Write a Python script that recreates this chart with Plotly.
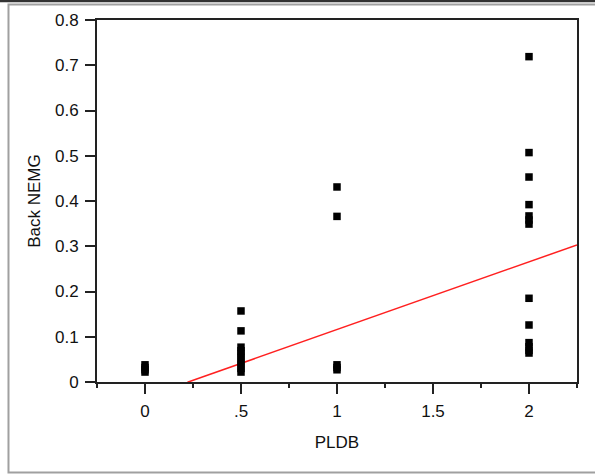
import plotly.graph_objects as go

# PLDB groups and the Back NEMG readings in each
pldb_0 = [0.038, 0.032, 0.027, 0.022]
pldb_05 = [0.157, 0.113, 0.077, 0.069, 0.062, 0.054, 0.046, 0.038, 0.030, 0.022]
pldb_1 = [0.431, 0.366, 0.038, 0.032, 0.027]
pldb_2 = [0.719, 0.507, 0.453, 0.392, 0.367, 0.358, 0.349,
          0.185, 0.126, 0.087, 0.078, 0.070, 0.064]

groups = [(0.0, pldb_0), (0.5, pldb_05), (1.0, pldb_1), (2.0, pldb_2)]

# Linear fit of Back NEMG on PLDB
FIT_INTERCEPT = -0.0337
FIT_SLOPE = 0.1496

x_ticks = [0, 0.5, 1, 1.5, 2]
x_tick_text = ["0", ".5", "1", "1.5", "2"]
x_minor = [-0.25, 0.25, 0.75, 1.25, 1.75, 2.25]
y_ticks = [0, 0.1, 0.2, 0.3, 0.4, 0.5, 0.6, 0.7, 0.8]
y_tick_text = ["0", "0.1", "0.2", "0.3", "0.4", "0.5", "0.6", "0.7", "0.8"]

X_RANGE = [-0.25, 2.25]
Y_RANGE = [0, 0.8]

xs, ys = [], []
for xv, vals in groups:
    xs += [xv] * len(vals)
    ys += vals

# fitted line runs from just below its zero crossing to the right edge
fit_x0 = -FIT_INTERCEPT / FIT_SLOPE - 0.004
fit_x = [fit_x0, X_RANGE[1]]
fit_y = [FIT_INTERCEPT + FIT_SLOPE * v for v in fit_x]

fig = go.Figure()
fig.add_trace(go.Scatter(
    x=fit_x, y=fit_y, mode="lines",
    line=dict(color="#ff2020", width=1.5),
    hoverinfo="skip", cliponaxis=False,
))
fig.add_trace(go.Scatter(
    x=xs, y=ys, mode="markers",
    marker=dict(symbol="square", size=7.5, color="#000000", line=dict(width=0)),
))

font = dict(family="Liberation Sans, Arial, sans-serif", size=17, color="#111111")
axis_common = dict(
    showline=True, linecolor="#222222", linewidth=2, mirror=True,
    ticks="outside", ticklen=10, tickwidth=2, tickcolor="#222222",
    showgrid=False, zeroline=False, tickfont=font,
)

fig.update_layout(
    width=595, height=474,
    margin=dict(l=97, r=18, t=20, b=92),
    paper_bgcolor="white", plot_bgcolor="white",
    showlegend=False,
    font=font,
    xaxis=dict(
        range=X_RANGE, tickmode="array", tickvals=x_ticks, ticktext=x_tick_text,
        minor=dict(tickmode="array", tickvals=x_minor, ticks="outside",
                   ticklen=4, tickwidth=2, tickcolor="#222222"),
        ticklabelstandoff=3,
        title=dict(text="PLDB", font=font, standoff=16),
        **axis_common,
    ),
    yaxis=dict(
        range=Y_RANGE, tickmode="array", tickvals=y_ticks, ticktext=y_tick_text,
        ticklabelstandoff=3,
        title=dict(text="Back NEMG", font=font, standoff=10),
        **axis_common,
    ),
)

# Window frame around the chart
fig.add_shape(type="line", xref="paper", yref="paper",
              x0=-0.21, x1=1.05, y0=1.0525, y1=1.0525,
              line=dict(color="#333333", width=2.5))
fig.add_shape(type="path", xref="paper", yref="paper",
              path="M 1.05 1.0428 L -0.1844 1.0428 L -0.1844 -0.25 L 1.05 -0.25",
              line=dict(color="#a0a0a0", width=2))

fig.write_html("out.html")
